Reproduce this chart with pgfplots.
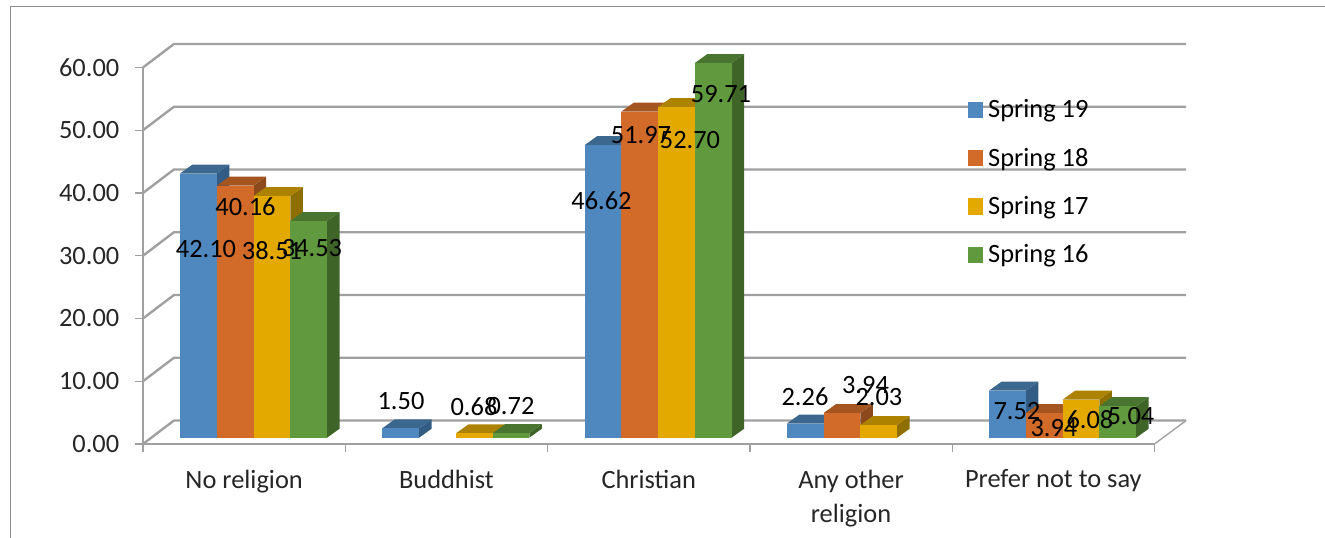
\documentclass[border=0pt]{standalone}
\usepackage{fontspec}
\setmainfont{Carlito}
\usepackage{pgfplots}
\pgfplotsset{compat=1.18}

\newcommand\chartfont{\fontsize{19.8}{25.5}\selectfont}

\definecolor{gridc}{HTML}{A0A0A0}
\definecolor{sblue}{HTML}{4F88BF}
\definecolor{sblueT}{HTML}{3C6890}
\definecolor{sblueS}{HTML}{335C84}
\definecolor{sorange}{HTML}{D26B2A}
\definecolor{sorangeT}{HTML}{A5551F}
\definecolor{sorangeS}{HTML}{8C4A1C}
\definecolor{syellow}{HTML}{E4A900}
\definecolor{syellowT}{HTML}{AC8200}
\definecolor{syellowS}{HTML}{8F6E00}
\definecolor{sgreen}{HTML}{619A3E}
\definecolor{sgreenT}{HTML}{4A7530}
\definecolor{sgreenS}{HTML}{3F6428}

% one 3D bar: category, slot in the cluster, value, colour
\newcommand\threedbar[4]{%
  \pgfmathsetmacro\xa{#1+0.1829+0.1817*#2}%
  \pgfmathsetmacro\xb{\xa+0.1817}%
  \pgfmathsetmacro\xc{\xa+0.0618}%
  \pgfmathsetmacro\xd{\xb+0.0618}%
  \pgfmathsetmacro\yb{1+#3}%
  \pgfmathsetmacro\yc{\yb+1.43}%
  \edef\tmp{%
    \noexpand\addplot[draw=none,fill=#4S,forget plot] coordinates {(\xb,1) (\xd,2.43) (\xd,\yc) (\xb,\yb)} --cycle;
    \noexpand\addplot[draw=none,fill=#4T,forget plot] coordinates {(\xa,\yb) (\xb,\yb) (\xd,\yc) (\xc,\yc)} --cycle;
    \noexpand\addplot[draw=none,fill=#4,forget plot] coordinates {(\xa,1) (\xb,1) (\xb,\yb) (\xa,\yb)} --cycle;
  }\tmp}

% data label at a picture position in pixels
\newcommand\lab[3]{\node[inner sep=0pt,anchor=center] at (axis cs:{(#1-143)/202.3},{(444-#2)/6.275}) {#3};}

% legend key with the gap to its text
\pgfplotsset{squarekey/.style={legend image code/.code={
  \fill[#1] (0pt,-5.8pt) rectangle (10.5pt,5.8pt);
  \path[draw=none] (0pt,0pt) -- (15pt,0pt);}}}

\begin{document}
\begin{tikzpicture}[font=\chartfont]
\useasboundingbox (0,0) rectangle (993.75pt,403.5pt);
\begin{axis}[
  at={(107.25pt,70.5pt)}, anchor=south west,
  scale only axis, width=758.6pt, height=282.4pt,
  xmin=0, xmax=5, ymin=0, ymax=60,
  clip=false,
  axis x line*=bottom, axis y line*=left,
  axis line style={draw=gridc,line width=1.8pt},
  tick align=outside,
  tick style={draw=gridc,line width=1pt},
  major tick length=6pt,
  xtick={0,1,2,3,4,5}, xticklabels={},
  extra x ticks={0.5,1.5,2.5,3.5,4.5},
  extra x tick labels={No religion,Buddhist,Christian,{Any other\\religion},Prefer not to say},
  extra x tick style={major tick length=0pt,tick style={draw=none}},
  xticklabel style={align=center,text=black!85,inner sep=0pt,yshift=-19.2pt},
  ytick={0,10,20,30,40,50,60},
  yticklabel style={text=black!85,inner sep=0pt,xshift=-11.6pt,
    /pgf/number format/.cd,fixed,fixed zerofill,precision=2,assume math mode=true},
  legend style={at={(0.8156,0.915)},anchor=north west,draw=none,fill=none,
    inner sep=0pt,outer sep=0pt,row sep=21.2pt,
    nodes={inner sep=0pt}},
  legend cell align=left,
]
% walls and floor
\addplot[gridc,line width=1.8pt,forget plot] coordinates {(0,0) (0.153,3.745) (5.157,3.745)};
\addplot[gridc,line width=1.8pt,forget plot] coordinates {(0,10) (0.153,13.745) (5.157,13.745)};
\addplot[gridc,line width=1.8pt,forget plot] coordinates {(0,20) (0.153,23.745) (5.157,23.745)};
\addplot[gridc,line width=1.8pt,forget plot] coordinates {(0,30) (0.153,33.745) (5.157,33.745)};
\addplot[gridc,line width=1.8pt,forget plot] coordinates {(0,40) (0.153,43.745) (5.157,43.745)};
\addplot[gridc,line width=1.8pt,forget plot] coordinates {(0,50) (0.153,53.745) (5.157,53.745)};
\addplot[gridc,line width=1.8pt,forget plot] coordinates {(0,60) (0.153,63.745) (5.157,63.745)};
\addplot[gridc,line width=1pt,forget plot] coordinates {(5,0) (5.157,3.745)};

% No religion
\threedbar{0}{0}{42.10}{sblue}
\threedbar{0}{1}{40.16}{sorange}
\threedbar{0}{2}{38.51}{syellow}
\threedbar{0}{3}{34.53}{sgreen}
% Buddhist
\threedbar{1}{0}{1.50}{sblue}
\threedbar{1}{2}{0.68}{syellow}
\threedbar{1}{3}{0.72}{sgreen}
% Christian
\threedbar{2}{0}{46.62}{sblue}
\threedbar{2}{1}{51.97}{sorange}
\threedbar{2}{2}{52.70}{syellow}
\threedbar{2}{3}{59.71}{sgreen}
% Any other religion
\threedbar{3}{0}{2.26}{sblue}
\threedbar{3}{1}{3.94}{sorange}
\threedbar{3}{2}{2.03}{syellow}
% Prefer not to say
\threedbar{4}{0}{7.52}{sblue}
\threedbar{4}{1}{3.94}{sorange}
\threedbar{4}{2}{6.08}{syellow}
\threedbar{4}{3}{5.04}{sgreen}

\addlegendimage{squarekey=sblue}
\addlegendentry{Spring 19}
\addlegendimage{squarekey=sorange}
\addlegendentry{Spring 18}
\addlegendimage{squarekey=syellow}
\addlegendentry{Spring 17}
\addlegendimage{squarekey=sgreen}
\addlegendentry{Spring 16}

\lab{206}{249.5}{42.10}
\lab{245.5}{206.5}{40.16}
\lab{272}{251}{38.51}
\lab{312}{248}{34.53}
\lab{401}{401}{1.50}
\lab{474}{406.5}{0.68}
\lab{511}{406.5}{0.72}
\lab{601.5}{201}{46.62}
\lab{641}{135.5}{51.97}
\lab{690}{140.5}{52.70}
\lab{721}{94}{59.71}
\lab{805}{396.5}{2.26}
\lab{865.5}{385.5}{3.94}
\lab{879}{397.5}{2.03}
\lab{1017}{411}{7.52}
\lab{1054}{428}{3.94}
\lab{1090}{420}{6.08}
\lab{1131}{416}{5.04}
\end{axis}
% chart frame, cut by the edge of the picture
\draw[draw=black!45,line width=0.9pt] (7.9pt,0pt) -- (7.9pt,398.6pt) -- (993.75pt,398.6pt);
\end{tikzpicture}
\end{document}
